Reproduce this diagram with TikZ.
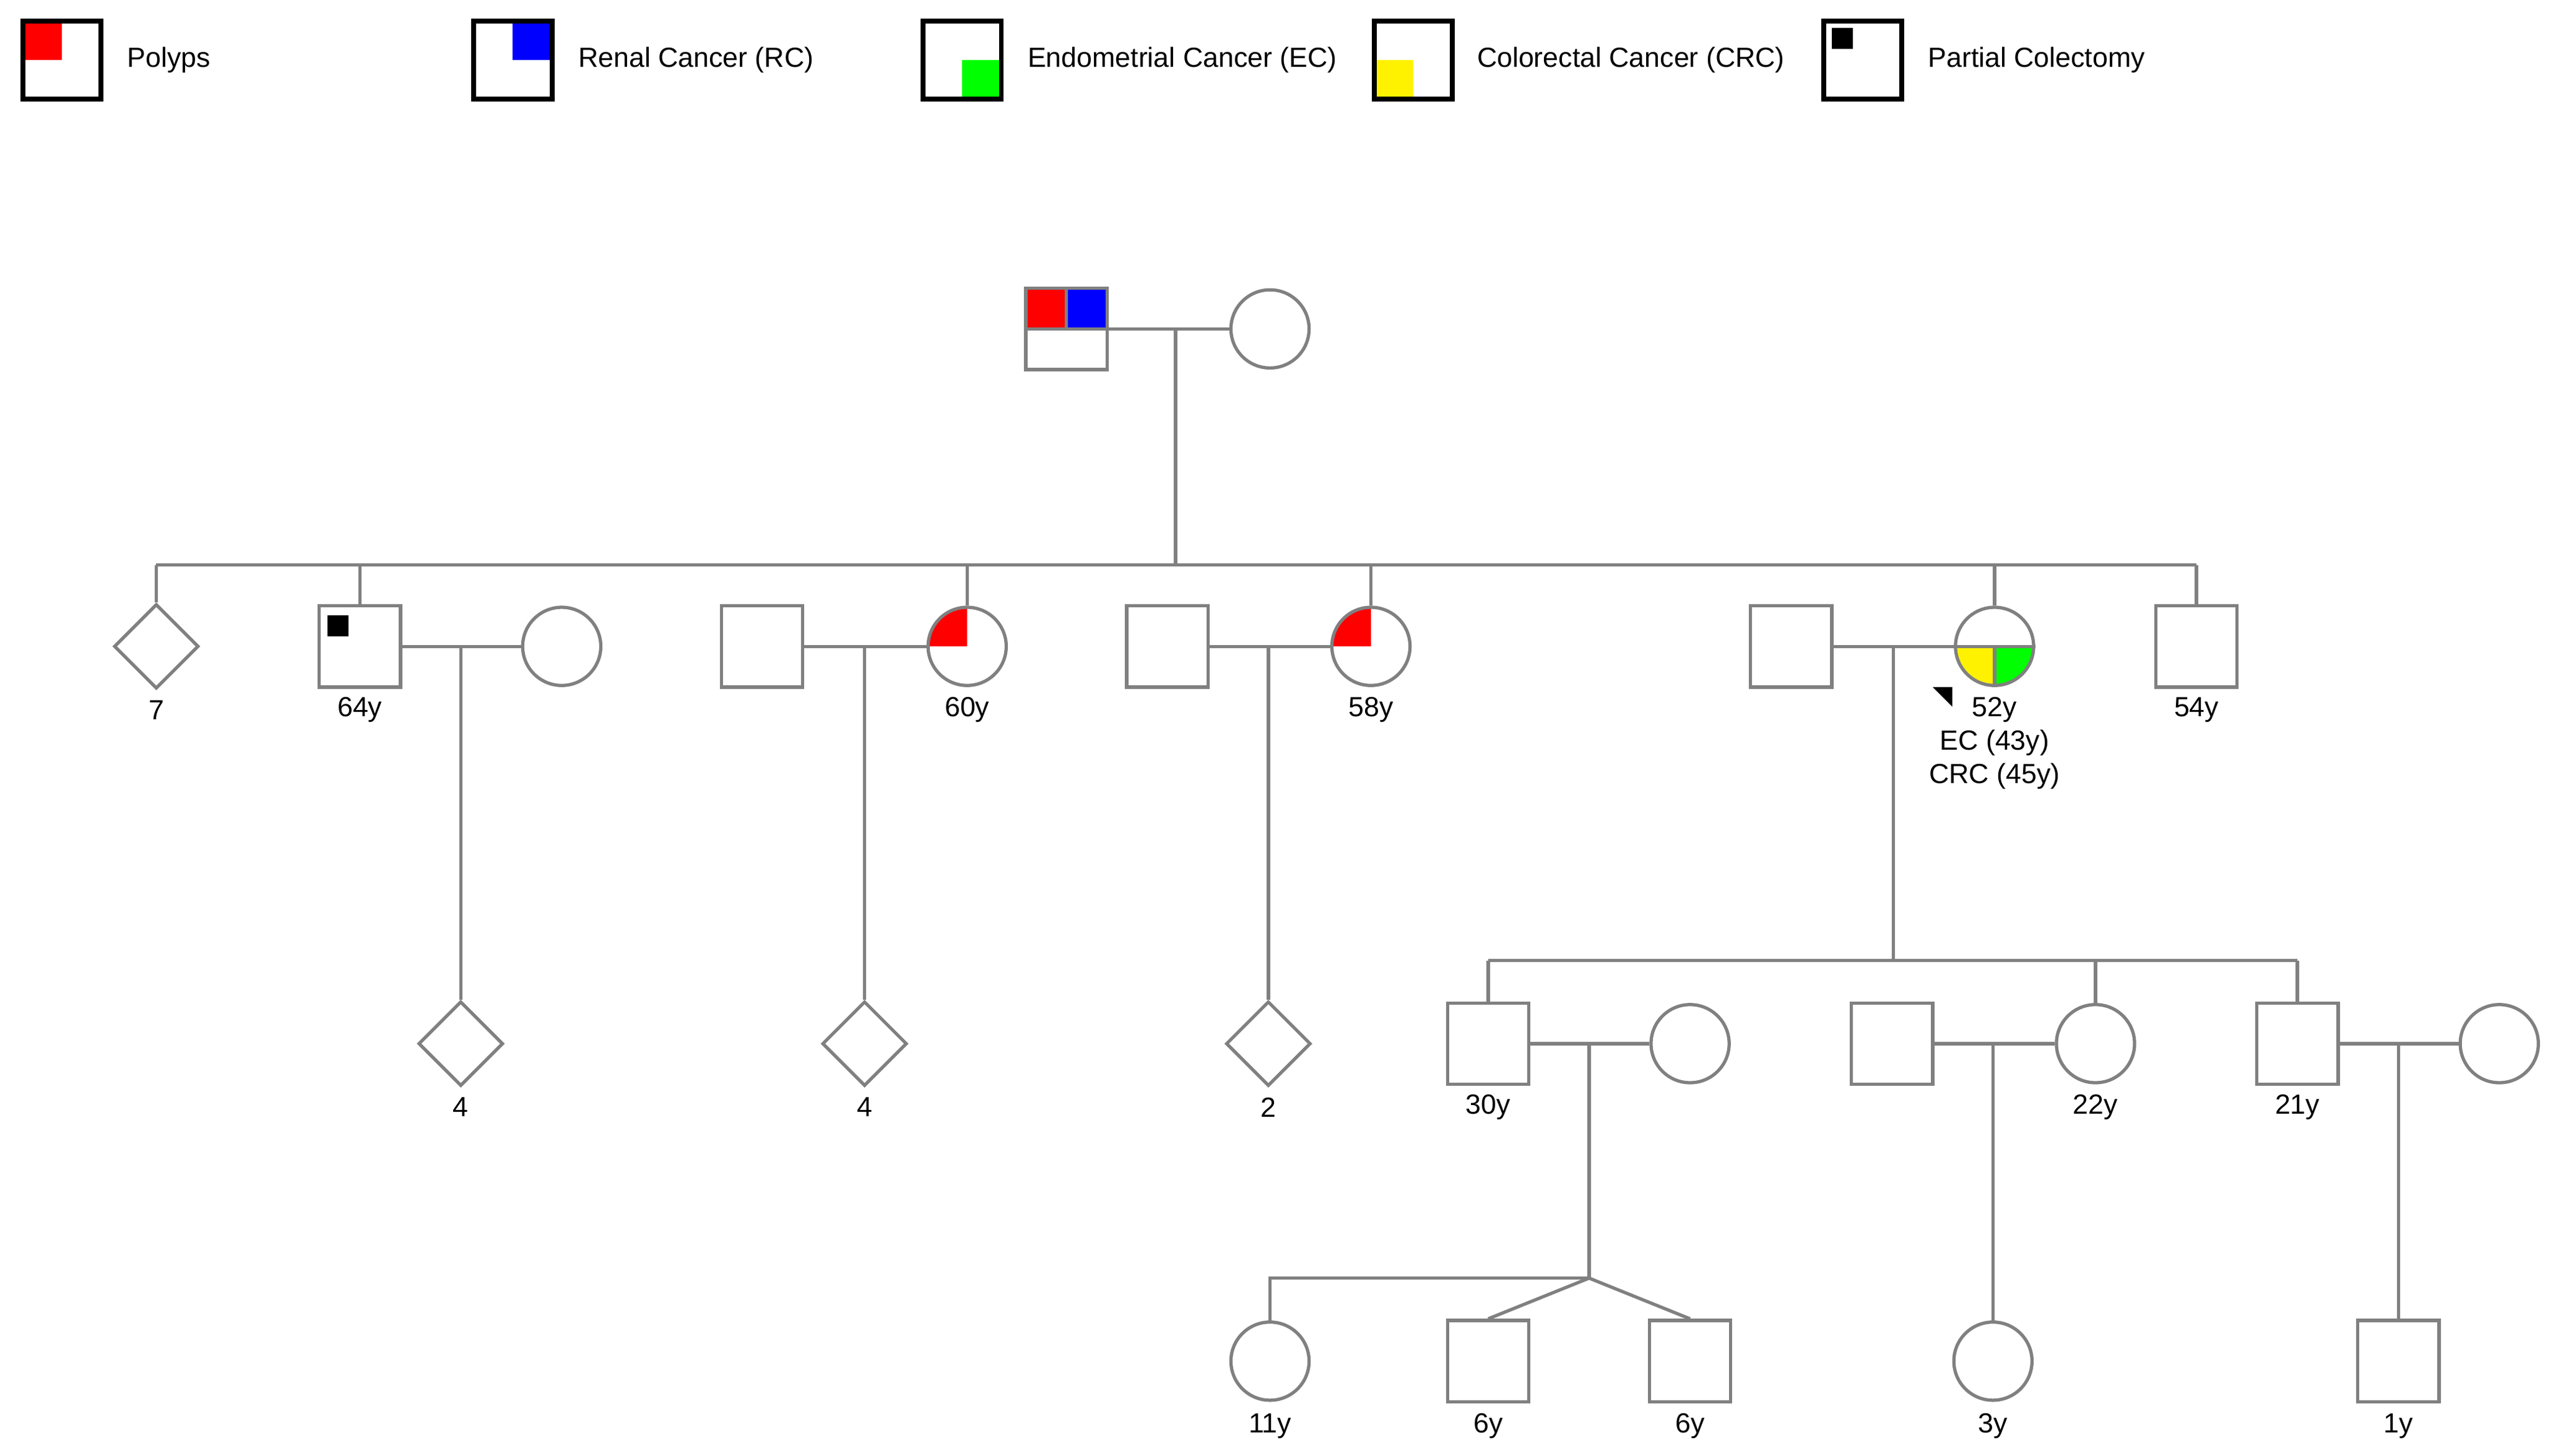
\documentclass[tikz,border=0pt]{standalone}
\usepackage{fontspec}
\setmainfont{Liberation Sans}
\usetikzlibrary{shapes.geometric}
\definecolor{gc}{RGB}{128,128,128}
\begin{document}
\begin{tikzpicture}[x=1pt,y=-1pt,
  ind/.style={draw=gc,line width=2pt,inner sep=0pt},
  male/.style={ind,rectangle,minimum size=50pt},
  fem/.style={ind,circle,minimum size=48pt},
  dia/.style={ind,diamond,minimum size=52pt},
  lg/.style={draw=black,line width=3pt,rectangle,minimum size=48pt,inner sep=0pt},
  lt/.style={anchor=west,font=\fontsize{17}{20}\selectfont,inner sep=0pt},
  lb/.style={font=\fontsize{17}{20.5}\selectfont,inner sep=0pt},
  ln/.style={draw=gc,line width=2pt}]
\useasboundingbox (0,0) rectangle (1568,894);
% legend
\fill[red] (13,12) rectangle (38,37);
\node[lg] (L1) at (38,37) {};
\node[lt] (T1) at (78,37) {Polyps};
\fill[blue] (315,12) rectangle (340,37);
\node[lg] (L2) at (315,37) {};
\node[lt] (T2) at (355,37) {Renal Cancer (RC)};
\fill[green] (591,37) rectangle (616,61);
\node[lg] (L3) at (591,37) {};
\node[lt] (T3) at (631,37) {Endometrial Cancer (EC)};
\fill[yellow] (843,37) rectangle (868,61);
\node[lg] (L4) at (868,37) {};
\node[lt] (T4) at (907,37) {Colorectal Cancer (CRC)};
\fill[black] (1125,17) rectangle (1138,30);
\node[lg] (L5) at (1144,37) {};
\node[lt] (T5) at (1184,37) {Partial Colectomy};
% gen I
\fill[red] (630,177) rectangle (655,202);
\fill[blue] (655,177) rectangle (680,202);
\node[male] (I1) at (655,202) {};
\draw[ln] (630,202) -- (680,202) (655,177) -- (655,202);
\node[fem] (I2) at (780,202) {};
\coordinate (m1) at (722,202);
\draw[ln] (I1) -- (I2);
\coordinate (s1) at (722,347);
\draw[ln] (m1) -- (s1);
% gen II
\node[dia] (A) at (96,397) {};
\fill[black] (201,378) rectangle (214,391);
\node[male] (B) at (221,397) {};
\node[fem] (Bw) at (345,397) {};
\node[male] (Ch) at (468,397) {};
\fill[red] (594,397) -- (594,373) arc[start angle=270,end angle=180,radius=24] -- cycle;
\node[fem] (C) at (594,397) {};
\node[male] (Dh) at (717,397) {};
\fill[red] (842,397) -- (842,373) arc[start angle=270,end angle=180,radius=24] -- cycle;
\node[fem] (D) at (842,397) {};
\node[male] (Eh) at (1100,397) {};
\fill[yellow] (1225,397) -- (1201,397) arc[start angle=180,end angle=90,radius=24] -- cycle;
\fill[green] (1225,397) -- (1249,397) arc[start angle=0,end angle=90,radius=24] -- cycle;
\node[fem] (E) at (1225,397) {};
\draw[ln] (E.west) -- (E.east) (E.center) -- (E.south);
\fill[black] (1187,422) -- (1199,422) -- (1199,434) -- cycle;
\node[male] (F) at (1349,397) {};
\draw[ln] (96,347) -- (1349,347);
\foreach \n in {A,B,C,D,E,F} \draw[ln] (\n.north) -- (\n.north |- s1);
\node[lb] (tA) at (96,436) {7};
\node[lb] (tB) at (221,436) {64y};
\node[lb] (tC) at (594,436) {60y};
\node[lb] (tD) at (842,436) {58y};
\node[lb,align=center] (tE) at (1225,456.5) {52y\\EC (43y)\\CRC (45y)};
\node[lb] (tF) at (1349,436) {54y};
\draw[ln] (B) -- (Bw) (Ch) -- (C) (Dh) -- (D) (Eh) -- (E);
% gen III (diamonds)
\node[dia] (G1) at (283,641) {};
\node[dia] (G2) at (531,641) {};
\node[dia] (G3) at (779,641) {};
\draw[ln] (283,397) -- (G1.north) (531,397) -- (G2.north) (779,397) -- (G3.north);
\node[lb] (tG1) at (283,680) {4};
\node[lb] (tG2) at (531,680) {4};
\node[lb] (tG3) at (779,680) {2};
% proband's children
\node[male] (H1) at (914,641) {};
\node[fem] (H1w) at (1038,641) {};
\node[male] (H2h) at (1162,641) {};
\node[fem] (H2) at (1287,641) {};
\node[male] (H3) at (1411,641) {};
\node[fem] (H3w) at (1535,641) {};
\coordinate (s2) at (1163,590);
\draw[ln] (1163,397) -- (s2);
\draw[ln] (914,590) -- (1411,590);
\foreach \n in {H1,H2,H3} \draw[ln] (\n.north) -- (\n.north |- s2);
\draw[ln] (H1) -- (H1w) (H2h) -- (H2) (H3) -- (H3w);
\node[lb] (tH1) at (914,680) {30y};
\node[lb] (tH2) at (1287,680) {22y};
\node[lb] (tH3) at (1411,680) {21y};
% gen IV
\node[fem] (K1) at (780,836) {};
\node[male] (K2) at (914,836) {};
\node[male] (K3) at (1038,836) {};
\node[fem] (K4) at (1224,836) {};
\node[male] (K5) at (1473,836) {};
\coordinate (tw) at (976,785);
\draw[ln] (976,641) -- (tw);
\draw[ln] (K1.north) -- (K1.north |- tw) -- (tw);
\draw[ln] (tw) -- (K2.north) (tw) -- (K3.north);
\draw[ln] (1224,641) -- (K4.north) (1473,641) -- (K5.north);
\node[lb] (tK1) at (780,876) {11y};
\node[lb] (tK2) at (914,876) {6y};
\node[lb] (tK3) at (1038,876) {6y};
\node[lb] (tK4) at (1224,876) {3y};
\node[lb] (tK5) at (1473,876) {1y};
\end{tikzpicture}
\end{document}
